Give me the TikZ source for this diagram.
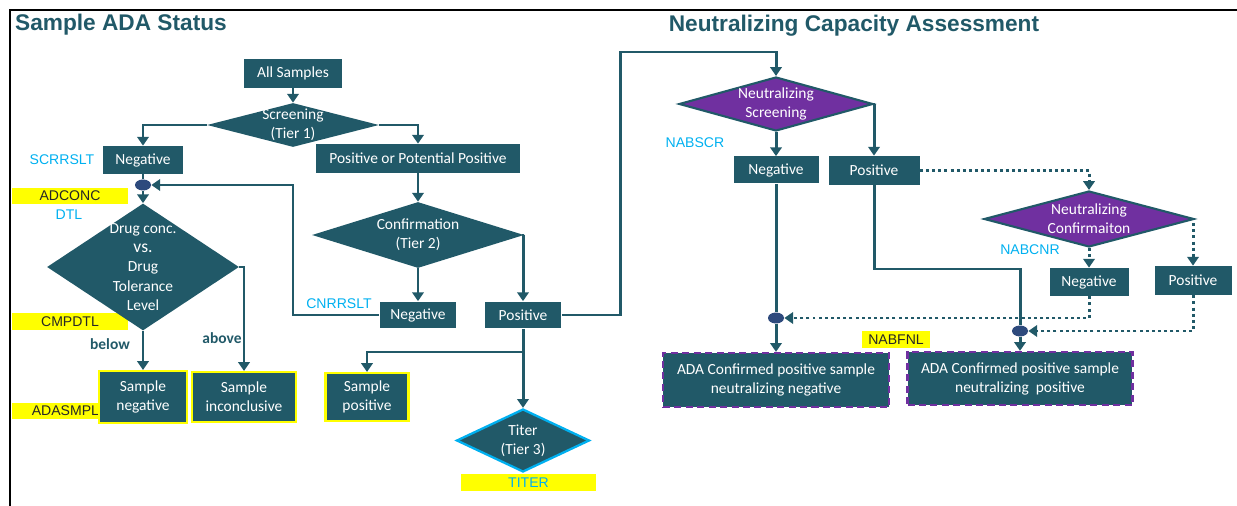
\documentclass[tikz,border=0pt]{standalone}
\usepackage{fontspec}
\setmainfont{Carlito}
\newfontfamily\arialf{Liberation Sans}
\usetikzlibrary{shapes.geometric,arrows.meta,calc}
\definecolor{adateal}{HTML}{215968}
\definecolor{nabpurple}{HTML}{7030A0}
\definecolor{varblue}{HTML}{00B0F0}
\definecolor{dotblue}{HTML}{2E4A7D}
\definecolor{tagyellow}{HTML}{FFFF00}

\begin{document}
\begin{tikzpicture}[x=0.02cm,y=-0.02cm,
  box/.style={rectangle,fill=adateal,text=white,inner sep=0pt,align=center,font=\fontsize{8.8}{10.8}\selectfont},
  res/.style={box,draw=tagyellow,line width=1.2pt},
  fin/.style={box,draw=nabpurple,line width=1.3pt,dash pattern=on 4pt off 2.5pt},
  dec/.style={diamond,fill=adateal,inner sep=0pt},
  ndec/.style={dec,fill=nabpurple,draw=adateal,line width=1.2pt},
  dectext/.style={text=white,align=center,font=\fontsize{8.8}{10.8}\selectfont},
  junc/.style={ellipse,fill=dotblue,inner sep=0pt,minimum width=0.32cm,minimum height=0.22cm},
  var/.style={text=varblue,font=\arialf\fontsize{8}{9}\selectfont},
  tag/.style={fill=tagyellow,inner sep=0pt,minimum height=0.33cm,font=\arialf\fontsize{8}{9}\selectfont,text=black!85},
  ttl/.style={text=adateal,font=\arialf\bfseries\fontsize{12.9}{14}\selectfont},
  cond/.style={text=adateal,font=\bfseries\fontsize{8.8}{10}\selectfont},
  flow/.style={draw=adateal,line width=1.7pt},
  arr/.style={flow,-{Triangle[width=6.5pt,length=5pt]}},
  dots/.style={arr,dash pattern=on 1.7pt off 1.8pt}]
  \useasboundingbox (0,0) rectangle (1237,506);
  \draw[line width=1.1pt] (10,506) -- (10,10) -- (1237,10);

  \node[ttl] (t1) at (121,25) {Sample ADA Status};
  \node[ttl] (t2) at (854,26) {Neutralizing Capacity Assessment};

  \node[tag,minimum width=2.32cm] (adconc) at (70,196) {ADCONC};
  \node[tag,minimum width=2.32cm] (cmpdtl) at (70,321.5) {CMPDTL};
  \node[tag,minimum width=1.76cm,text width=1.72cm,align=right] (adasmpl) at (56,411) {ADASMPL};
  \node[tag,minimum width=2.7cm,text=varblue] (titerlab) at (528.5,482.5) {TITER};
  \node[tag,minimum width=1.36cm] (nabfnl) at (896,339.5) {NABFNL};

  \node[var] (scrrslt) at (62,160) {SCRRSLT};
  \node[var] (dtl) at (69,215) {DTL};
  \node[var] (cnrrslt) at (339,304) {CNRRSLT};
  \node[var] (nabscr) at (695,143) {NABSCR};
  \node[var] (nabcnr) at (1030,250) {NABCNR};

  \node[box,minimum width=1.96cm,minimum height=0.58cm] (allsam) at (293,73.5) {All Samples};
  \node[dec,minimum width=3.44cm,minimum height=0.88cm,label={[dectext]center:{Screening\\(Tier 1)}}] (scr) at (293,125) {};
  \node[box,minimum width=1.6cm,minimum height=0.56cm] (neg1) at (143,160) {Negative};
  \node[box,minimum width=4.08cm,minimum height=0.58cm] (ppp) at (418,158.5) {Positive or Potential Positive};
  \node[junc] (dot1) at (143,185) {};
  \node[dec,minimum width=3.84cm,minimum height=2.54cm,label={[dectext,font=\fontsize{8.8}{11}\selectfont]center:{Drug conc.\\{\fontsize{10}{11}\selectfont vs.}\\Drug\\Tolerance\\Level}}] (drug) at (143,267) {};
  \node[res,minimum width=1.76cm,minimum height=1.04cm] (sneg) at (143,397) {Sample\\negative};
  \node[res,minimum width=2.08cm,minimum height=1.0cm] (sinc) at (244,397) {Sample\\inconclusive};
  \node[res,minimum width=1.66cm,minimum height=0.96cm] (spos) at (367,397) {Sample\\positive};
  \node[dec,minimum width=4.24cm,minimum height=1.32cm,label={[dectext]center:{Confirmation\\(Tier 2)}}] (conf) at (418,235) {};
  \node[box,minimum width=1.54cm,minimum height=0.54cm] (cneg) at (418,315) {Negative};
  \node[box,minimum width=1.54cm,minimum height=0.54cm] (cpos) at (523,315) {Positive};
  \node[dec,draw=varblue,line width=1.3pt,minimum width=2.66cm,minimum height=1.26cm,label={[dectext]center:{Titer\\(Tier 3)}}] (titer) at (523,440.5) {};
  \node[cond] (below) at (110,344) {below};
  \node[cond] (above) at (222,338) {above};

  \node[ndec,minimum width=3.88cm,minimum height=1.08cm,label={[dectext]center:{Neutralizing\\Screening}}] (ns) at (776,104) {};
  \node[box,minimum width=1.7cm,minimum height=0.54cm] (nneg) at (776,170) {Negative};
  \node[box,minimum width=1.82cm,minimum height=0.58cm] (npos) at (874,170.5) {Positive};
  \node[ndec,minimum width=4.2cm,minimum height=1.12cm,label={[dectext]center:{Neutralizing\\Confirmaiton}}] (nc) at (1089,219) {};
  \node[box,minimum width=1.58cm,minimum height=0.56cm] (ncneg) at (1089,282) {Negative};
  \node[box,minimum width=1.54cm,minimum height=0.58cm] (ncpos) at (1193,280.5) {Positive};
  \node[junc] (dot2) at (776,318) {};
  \node[junc] (dot3) at (1020,331) {};
  \node[fin,minimum width=4.52cm,minimum height=1.08cm] (adaneg) at (776,380) {ADA Confirmed positive sample\\neutralizing negative};
  \node[fin,minimum width=4.5cm,minimum height=1.06cm] (adapos) at (1020,378.5) {ADA Confirmed positive sample\\neutralizing\ \ positive};

  \coordinate (cbk) at (293,185);
  \coordinate (brk) at (523,352);
  \coordinate (up) at (620,52);
  \coordinate (jn) at (1020,269);

  \draw[arr] (allsam) -- (scr.north);
  \draw[arr] (scr.west) -| (neg1.north);
  \draw[arr] (scr.east) -| (ppp.north);
  \draw[flow] (neg1.south) -- (dot1.north);
  \draw[arr] (dot1.south) -- (drug.north);
  \draw[arr] (drug.south) -- (sneg.north);
  \draw[arr] (drug.east) -| (sinc.north);
  \draw[arr] (ppp.south) -- (conf.north);
  \draw[arr] (conf.south) -- (cneg.north);
  \draw[arr] (conf.east) -| (cpos.north);
  \draw[arr] (cneg.west) -| (cbk) -- (dot1.east);
  \draw[arr] (cpos.south) -- (titer.north);
  \draw[arr] (brk) -| (spos.north);
  \draw[arr] (cpos.east) -| (up) -| (ns.north);

  \draw[arr] (ns.south) -- (nneg.north);
  \draw[arr] (ns.east) -| (npos.north);
  \draw[flow] (nneg.south) -- (dot2.north);
  \draw[arr] (dot2.south) -- (adaneg.north);
  \draw[flow] (npos.south) |- (jn) -- (dot3.north);
  \draw[arr] (dot3.south) -- (adapos.north);
  \draw[dots] (npos.east) -| (nc.north);
  \draw[dots] (nc.south) -- (ncneg.north);
  \draw[dots] (nc.east) -| (ncpos.north);
  \draw[dots] (ncneg.south) |- (dot2.east);
  \draw[dots] (ncpos.south) |- (dot3.east);
\end{tikzpicture}
\end{document}
